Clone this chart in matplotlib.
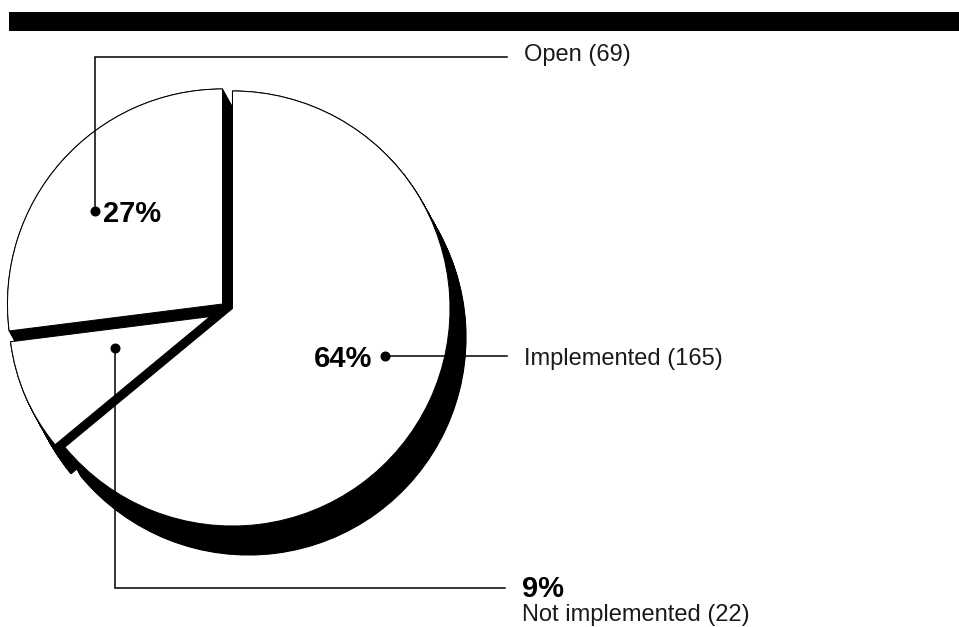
import matplotlib
matplotlib.use('Agg')
import matplotlib.pyplot as plt
from matplotlib.patches import Wedge, Rectangle
import numpy as np

# ---- data (clockwise order from 12 o'clock) ----
labels = ['Implemented', 'Not implemented', 'Open']
counts = [165, 22, 69]
percents = [64, 9, 27]

# ---- layout (pixel coordinates, y measured from top) ----
W, H = 959, 627
centers = {'Implemented': (232.5, 308.5), 'Not implemented': (210.0, 316.6), 'Open': (222.5, 304.0)}
radii = {'Implemented': 217.5, 'Not implemented': 201.0, 'Open': 215.0}
shadow = (16.0, 29.0)          # extrusion offset (px, down-right)

plt.rcParams['font.family'] = ['Liberation Sans', 'DejaVu Sans']

fig = plt.figure(figsize=(W / 100, H / 100), dpi=100)
ax = fig.add_axes([0, 0, 1, 1])
ax.set_xlim(0, W)
ax.set_ylim(0, H)
ax.set_aspect('equal')
ax.axis('off')


def Y(y):
    return H - y


# angles from data
angles = {}
start = 90.0
for lab, p in zip(labels, percents):
    end = start - 360.0 * p / sum(percents)
    angles[lab] = (end, start)
    start = end

# shadows (extruded wedges)
n_steps = 45
for lab in labels:
    cx, cy = centers[lab]
    t1, t2 = angles[lab]
    for t in np.linspace(0, 1, n_steps):
        w = Wedge((cx + t * shadow[0], Y(cy + t * shadow[1])), radii[lab], t1, t2,
                  facecolor='black', edgecolor='black', linewidth=0.8, zorder=1)
        ax.add_patch(w)

# white slices
for lab in labels:
    cx, cy = centers[lab]
    t1, t2 = angles[lab]
    ax.add_patch(Wedge((cx, Y(cy)), radii[lab], t1, t2, facecolor='white',
                       edgecolor='black', linewidth=0.7, zorder=2))

# top bar
ax.add_patch(Rectangle((9, Y(30.7)), W - 9, 18.4, facecolor='black', edgecolor='none', zorder=3))

# leader lines
lw = 1.1
ms = 6.2
# Open
ax.plot([95, 95, 506.7], [Y(210.7), Y(57.3), Y(57.3)], color='black', lw=lw, zorder=4,
        solid_joinstyle='miter')
ax.plot([95], [Y(210.7)], 'o', color='black', ms=ms, zorder=4)
# Implemented
ax.plot([385, 506.7], [Y(355.7), Y(355.7)], color='black', lw=lw, zorder=4)
ax.plot([385], [Y(355.7)], 'o', color='black', ms=ms, zorder=4)
# Not implemented
ax.plot([114.5, 114.5, 505], [Y(348.3), Y(588.3), Y(588.3)], color='black', lw=lw, zorder=4,
        solid_joinstyle='miter')
ax.plot([114.5], [Y(348.3)], 'o', color='black', ms=ms, zorder=4)

# texts
pct = dict(zip(labels, percents))
cnt = dict(zip(labels, counts))
bold_size = 21
reg_size = 17
txt_col = '#1a1a1a'

ax.text(103, Y(221.7), f"{pct['Open']}%", fontsize=bold_size, fontweight='bold',
        ha='left', va='baseline', zorder=5)
ax.text(372, Y(366.7), f"{pct['Implemented']}%", fontsize=bold_size, fontweight='bold',
        ha='right', va='baseline', zorder=5)
ax.text(522, Y(596.7), f"{pct['Not implemented']}%", fontsize=bold_size, fontweight='bold',
        ha='left', va='baseline', zorder=5)

ax.text(524, Y(61.5), f"Open ({cnt['Open']})", fontsize=reg_size, color=txt_col,
        ha='left', va='baseline', zorder=5)
ax.text(524, Y(365.5), f"Implemented ({cnt['Implemented']})", fontsize=reg_size, color=txt_col,
        ha='left', va='baseline', zorder=5)
ax.text(522, Y(621.0), f"Not implemented ({cnt['Not implemented']})", fontsize=reg_size,
        color=txt_col, ha='left', va='baseline', zorder=5)

fig.savefig('out.png', dpi=100, facecolor='white')
